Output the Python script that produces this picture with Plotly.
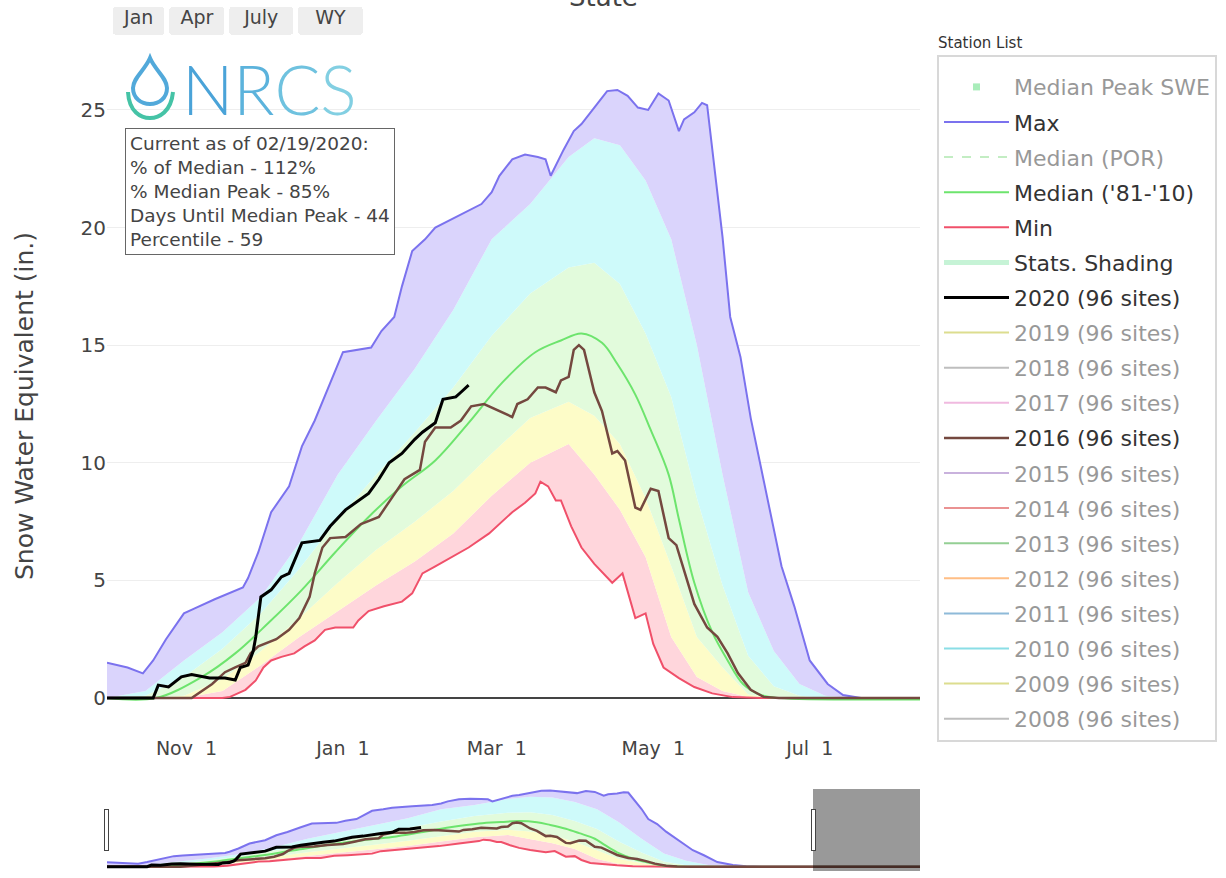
import pandas as pd
import plotly.graph_objects as go

# ---------------- data (day offsets from 2019-10-01, SWE in inches) ----------------
WY_START = "2019-10-01"

max_days = [0, 8, 14, 18, 23, 30, 34, 42, 53, 55, 59, 64, 71, 76, 81, 87, 92, 103, 107, 112,
            115, 119, 124, 128, 137, 146, 150, 153, 158, 163, 168, 171, 173, 178, 182, 185, 190,
            195, 199, 203, 207, 211, 215, 219, 223, 225, 229, 232, 234, 237, 240, 243, 247, 251,
            255, 259, 263, 268, 274, 281, 287, 294, 320, 365]
max_vals = [1.5, 1.3, 1.05, 1.6, 2.5, 3.6, 3.8, 4.2, 4.7, 5.1, 6.2, 7.9, 9.0, 10.7, 11.8, 13.4,
            14.7, 14.9, 15.6, 16.2, 17.5, 19.0, 19.5, 20.0, 20.5, 21.0, 21.5, 22.2, 22.9, 23.1,
            23.0, 22.9, 22.2, 23.3, 24.1, 24.4, 25.1, 25.8, 25.85, 25.6, 25.1, 25.0, 25.7, 25.4,
            24.1, 24.6, 24.9, 25.3, 25.2, 22.4, 19.6, 16.2, 14.5, 11.9, 9.8, 7.7, 5.6, 3.9, 1.6,
            0.6, 0.13, 0.0, 0.0, 0.0]

min_days = [0, 45, 48, 54, 58, 61, 64, 68, 73, 77, 81, 85, 89, 96, 98, 102, 108, 115, 119, 123,
            128, 141, 149, 158, 163, 167, 169, 172, 175, 177, 181, 185, 190, 197, 201, 206, 210,
            213, 217, 223, 229, 236, 244, 255, 365]
min_vals = [0, 0, 0.05, 0.35, 0.75, 1.3, 1.6, 1.75, 1.9, 2.2, 2.45, 2.9, 3.0, 3.0, 3.3, 3.7, 3.9,
            4.1, 4.45, 5.3, 5.6, 6.4, 7.0, 7.9, 8.3, 8.7, 9.2, 9.0, 8.4, 8.4, 7.3, 6.4, 5.7, 4.9,
            5.3, 3.4, 3.6, 2.3, 1.3, 0.85, 0.47, 0.2, 0.04, 0, 0]

med_days = [0, 19, 37, 50, 63, 76, 89, 102, 115, 128, 141, 154, 167, 177, 185, 193, 199, 206,
            212, 219, 223, 229, 236, 242, 248, 255, 262, 365]
med_vals = [0, 0, 0.9, 1.9, 3.2, 4.6, 6.2, 7.7, 9.0, 10.1, 11.7, 13.4, 14.7, 15.2, 15.5, 15.1,
            14.2, 12.9, 11.4, 9.5, 7.6, 4.9, 2.8, 1.6, 0.6, 0.13, 0, 0]

y2020_days = [0, 18, 20, 24, 29, 33, 40, 46, 50, 52, 55, 57, 58, 60, 64, 68, 71, 76, 83, 87, 93,
              97, 102, 106, 110, 115, 120, 123, 128, 131, 136, 138, 141]
y2020_vals = [0, 0, 0.55, 0.47, 0.9, 1.0, 0.85, 0.85, 0.77, 1.3, 1.4, 2.0, 2.6, 4.3, 4.6, 5.15,
              5.3, 6.6, 6.7, 7.3, 8.0, 8.3, 8.7, 9.3, 10.0, 10.4, 11.0, 11.3, 11.7, 12.7, 12.8,
              13.0, 13.3]

y2016_days = [0, 33, 41, 46, 50, 54, 56, 59, 66, 71, 75, 79, 81, 84, 87, 93, 99, 106, 111, 116,
              122, 124, 128, 134, 138, 142, 147, 153, 158, 160, 164, 168, 171, 175, 177, 180, 182,
              184, 186, 190, 193, 197, 199, 202, 206, 208, 212, 215, 219, 222, 227, 229, 234, 238,
              242, 246, 251, 256, 262, 365]
y2016_vals = [0, 0, 0.6, 1.1, 1.3, 1.5, 1.9, 2.2, 2.5, 2.9, 3.4, 4.3, 5.3, 6.4, 6.8, 6.85, 7.4,
              7.7, 8.5, 9.3, 9.7, 10.9, 11.5, 11.5, 11.8, 12.4, 12.5, 12.2, 11.95, 12.5, 12.7,
              13.2, 13.2, 13.0, 13.5, 13.65, 14.8, 15.0, 14.8, 13.0, 12.2, 10.4, 10.5, 10.1, 8.1,
              8.0, 8.9, 8.8, 6.8, 6.5, 4.7, 4.0, 3.0, 2.6, 1.9, 1.06, 0.35, 0.05, 0, 0]

pct_days = [0, 15, 30, 45, 60, 75, 90, 105, 120, 135, 150, 165, 180, 190, 200, 210, 220, 230,
            240, 250, 260, 270, 280, 290, 365]
p10_vals = [0, 0, 0, 0.3, 1.4, 2.6, 3.7, 4.8, 5.8, 7.0, 8.6, 10.0, 10.8, 9.5, 8.0, 6.0, 2.6, 0.9,
            0.3, 0.05, 0, 0, 0, 0, 0]
p30_vals = [0, 0, 0.1, 0.8, 2.0, 3.4, 4.9, 6.3, 7.5, 8.8, 10.4, 11.9, 12.6, 12.0, 10.8, 8.5, 5.6,
            2.6, 1.3, 0.15, 0, 0, 0, 0, 0]
p70_vals = [0, 0.1, 0.9, 2.1, 3.6, 5.5, 7.6, 9.5, 11.3, 13.2, 15.4, 17.2, 18.3, 18.5, 17.6, 15.5,
            12.8, 8.5, 4.8, 1.8, 0.5, 0.1, 0, 0, 0]
p90_vals = [0.0, 0.3, 1.6, 2.8, 4.3, 6.6, 9.5, 11.8, 14.0, 16.5, 19.5, 21.0, 23.0, 23.8, 23.5,
            22.0, 19.5, 15.0, 9.5, 4.5, 2.0, 0.6, 0.1, 0, 0]

median_peak_day = [185]
median_peak_val = [15.5]

hidden_years = ["2019", "2018", "2017", "2015", "2014", "2013", "2012", "2011", "2010", "2009", "2008"]
hidden_colors = ["#bcbd22", "#7f7f7f", "#e377c2", "#9467bd", "#d62728", "#2ca02c", "#ff7f0e",
                 "#1f77b4", "#17becf", "#bcbd22", "#7f7f7f"]

info_lines = ["Current as of 02/19/2020:", "% of Median - 112%", "% Median Peak - 85%",
              "Days Until Median Peak - 44", "Percentile - 59"]

range_buttons = ["Jan", "Apr", "July", "WY"]

# ---------------- helpers ----------------
start = pd.Timestamp(WY_START)


def to_dates(days):
    return [start + pd.Timedelta(days=d) for d in days]


FONT = "Verdana, DejaVu Sans, sans-serif"
W, H = 1226, 878
L, R, T, B = 107, 306, 77, 143
PW, PH = W - L - R, H - T - B


def px(xp):
    return (xp - L) / PW


def py(yp):
    return (H - B - yp) / PH


fig = go.Figure()

# stats shading (fill chain)
fig.add_trace(go.Scatter(x=to_dates(min_days), y=min_vals, mode="lines", line=dict(width=0),
                         showlegend=False, hoverinfo="skip", legendgroup="stats"))
for vals, col in [(p10_vals, "#ffd6dc"), (p30_vals, "#fdfcc8"), (p70_vals, "#e2fbdc"),
                  (p90_vals, "#cefafa")]:
    fig.add_trace(go.Scatter(x=to_dates(pct_days), y=vals, mode="lines", line=dict(width=0),
                             fill="tonexty", fillcolor=col, showlegend=False,
                             hoverinfo="skip", legendgroup="stats"))
fig.add_trace(go.Scatter(x=to_dates(max_days), y=max_vals, mode="lines", line=dict(width=0),
                         fill="tonexty", fillcolor="#dad4fc", showlegend=False,
                         hoverinfo="skip", legendgroup="stats"))

# legend entries and visible lines
fig.add_trace(go.Scatter(x=to_dates(median_peak_day), y=median_peak_val, mode="markers",
                         name="Median Peak SWE", marker=dict(symbol="square", size=7, color="#55dd77"),
                         visible="legendonly", legendgroup="mpeak", legendrank=1))
fig.add_trace(go.Scatter(x=to_dates(max_days), y=max_vals, mode="lines", name="Max",
                         line=dict(color="#7b72ee", width=2), legendgroup="max", legendrank=2))
fig.add_trace(go.Scatter(x=[None], y=[None], mode="lines", name="Median (POR)",
                         line=dict(color="#88dd88", width=2, dash="dash"),
                         visible="legendonly", legendgroup="mpor", legendrank=3))
fig.add_trace(go.Scatter(x=to_dates(min_days), y=min_vals, mode="lines", name="Min",
                         line=dict(color="#f0506a", width=2), legendgroup="min", legendrank=5))
fig.add_trace(go.Scatter(x=to_dates(med_days), y=med_vals, mode="lines", name="Median ('81-'10)",
                         line=dict(color="#6de46d", width=2, shape="spline"), legendgroup="med",
                         legendrank=4))
fig.add_trace(go.Scatter(x=[None], y=[None], mode="lines", name="Stats. Shading",
                         line=dict(color="#c6f3d6", width=5), legendgroup="stats", legendrank=6))
fig.add_trace(go.Scatter(x=to_dates(y2016_days), y=y2016_vals, mode="lines", name="2016 (96 sites)",
                         line=dict(color="#74483f", width=2.5), legendgroup="y2016", legendrank=11))
fig.add_trace(go.Scatter(x=to_dates(y2020_days), y=y2020_vals, mode="lines", name="2020 (96 sites)",
                         line=dict(color="#000000", width=3), legendgroup="y2020", legendrank=7))
rank_map = {"2019": 8, "2018": 9, "2017": 10, "2015": 12, "2014": 13, "2013": 14, "2012": 15,
            "2011": 16, "2010": 17, "2009": 18, "2008": 19}
for yr, col in zip(hidden_years, hidden_colors):
    fig.add_trace(go.Scatter(x=[None], y=[None], mode="lines", name=f"{yr} (96 sites)",
                             line=dict(color=col, width=2), visible="legendonly",
                             legendgroup="y" + yr, legendrank=rank_map[yr]))

# ---------------- decorations ----------------
logo_text = ("<span style='color:#4aa3d8'>N</span><span style='color:#5cb3dc'>R</span>"
             "<span style='color:#6fc2df'>C</span><span style='color:#82cfe2'>S</span>")
annotations = [
    dict(xref="paper", yref="paper", x=px(603), y=py(-3), xanchor="center",
         yanchor="middle", text="State", showarrow=False,
         font=dict(family=FONT, size=26, color="#444")),
    dict(xref="paper", yref="paper", x=px(125), y=py(128), xanchor="left", yanchor="top",
         text="<br>".join(info_lines), align="left", showarrow=False,
         font=dict(family=FONT, size=18.5, color="#444"), bordercolor="#666", borderwidth=1,
         borderpad=4, bgcolor="white"),
    dict(xref="paper", yref="paper", x=px(936), y=py(43), xanchor="left", yanchor="middle",
         text="Station List", showarrow=False, font=dict(family=FONT, size=15, color="#333")),
    dict(xref="paper", yref="paper", x=px(180), y=py(88), xanchor="left", yanchor="middle",
         text=logo_text, showarrow=False,
         font=dict(family="Lato, Roboto, sans-serif", size=68, weight=300)),
]

shapes = [
    # droplet
    dict(type="path", xref="paper", yref="paper",
         path=(f"M {px(150)},{py(58)} C {px(145)},{py(70)} {px(133)},{py(78)} {px(133)},{py(88)} "
               f"C {px(133)},{py(98)} {px(141)},{py(104)} {px(150)},{py(104)} "
               f"C {px(159)},{py(104)} {px(167)},{py(98)} {px(167)},{py(88)} "
               f"C {px(167)},{py(78)} {px(155)},{py(70)} {px(150)},{py(58)} Z"),
         line=dict(color="#52a9da", width=4), fillcolor="rgba(0,0,0,0)"),
    # bowl arc
    dict(type="path", xref="paper", yref="paper",
         path=(f"M {px(128)},{py(92)} C {px(129)},{py(112)} {px(141)},{py(118)} {px(150)},{py(118)} "
               f"C {px(159)},{py(118)} {px(171)},{py(112)} {px(173)},{py(92)}"),
         line=dict(color="#45c3a6", width=4)),
]

NB = "\u00a0"
TS = "\u2009"
btn_labels = [NB + range_buttons[0] + NB, NB + range_buttons[1] + NB,
              NB + TS + range_buttons[2] + TS + NB, NB + NB + range_buttons[3] + NB + NB]
fig.update_layout(
    width=W, height=H,
    margin=dict(l=L, r=R, t=T, b=B, autoexpand=False),
    paper_bgcolor="white", plot_bgcolor="white",
    font=dict(family=FONT, color="#444"),
    xaxis=dict(
        type="date", range=["2019-10-01", "2020-08-13"], tickformat="%b %e", dtick="M2",
        tick0="2019-11-01", showgrid=False, zeroline=False, showline=False,
        ticks="outside", ticklen=39, tickcolor="rgba(0,0,0,0)", ticklabelstandoff=-43,
        tickfont=dict(family=FONT, size=19, color="#444"),
        rangeslider=dict(visible=True, range=["2019-10-01", "2020-09-30"], thickness=0.1246,
                         bgcolor="white", yaxis=dict(rangemode="fixed", range=[-1.45, 26.4])),
        rangeselector=dict(
            buttons=[dict(label=btn_labels[0], step="month", count=1, stepmode="todate"),
                     dict(label=btn_labels[1], step="month", count=4, stepmode="backward"),
                     dict(label=btn_labels[2], step="month", count=7, stepmode="backward"),
                     dict(label=btn_labels[3], step="all")],
            x=px(113), y=py(35), xanchor="left", yanchor="bottom",
            font=dict(family=FONT, size=19, color="#444"), bgcolor="#eeeeee",
            activecolor="#eeeeee"),
    ),
    yaxis=dict(
        range=[-1.57, 26.4], dtick=5, tick0=0, gridcolor="#eeeeee", zeroline=True,
        zerolinecolor="#444", zerolinewidth=2, tickfont=dict(family=FONT, size=20, color="#444"),
        title=dict(text="Snow Water Equivalent (in.)", font=dict(family=FONT, size=25, color="#444"),
                   standoff=39),
    ),
    legend=dict(x=px(937), y=py(55), xanchor="left", yanchor="top", bgcolor="white",
                bordercolor="#d8d8d8", borderwidth=2, traceorder="grouped", tracegroupgap=3.5,
                itemwidth=65, maxheight=760, font=dict(family=FONT, size=22, color="#333"),
                title=dict(text=NB, font=dict(size=7))),
    annotations=annotations,
    shapes=shapes,
)

fig.write_html("out.html", config={"displayModeBar": False},
               post_script="document.body.style.margin='0px';document.body.style.overflow='hidden';")
